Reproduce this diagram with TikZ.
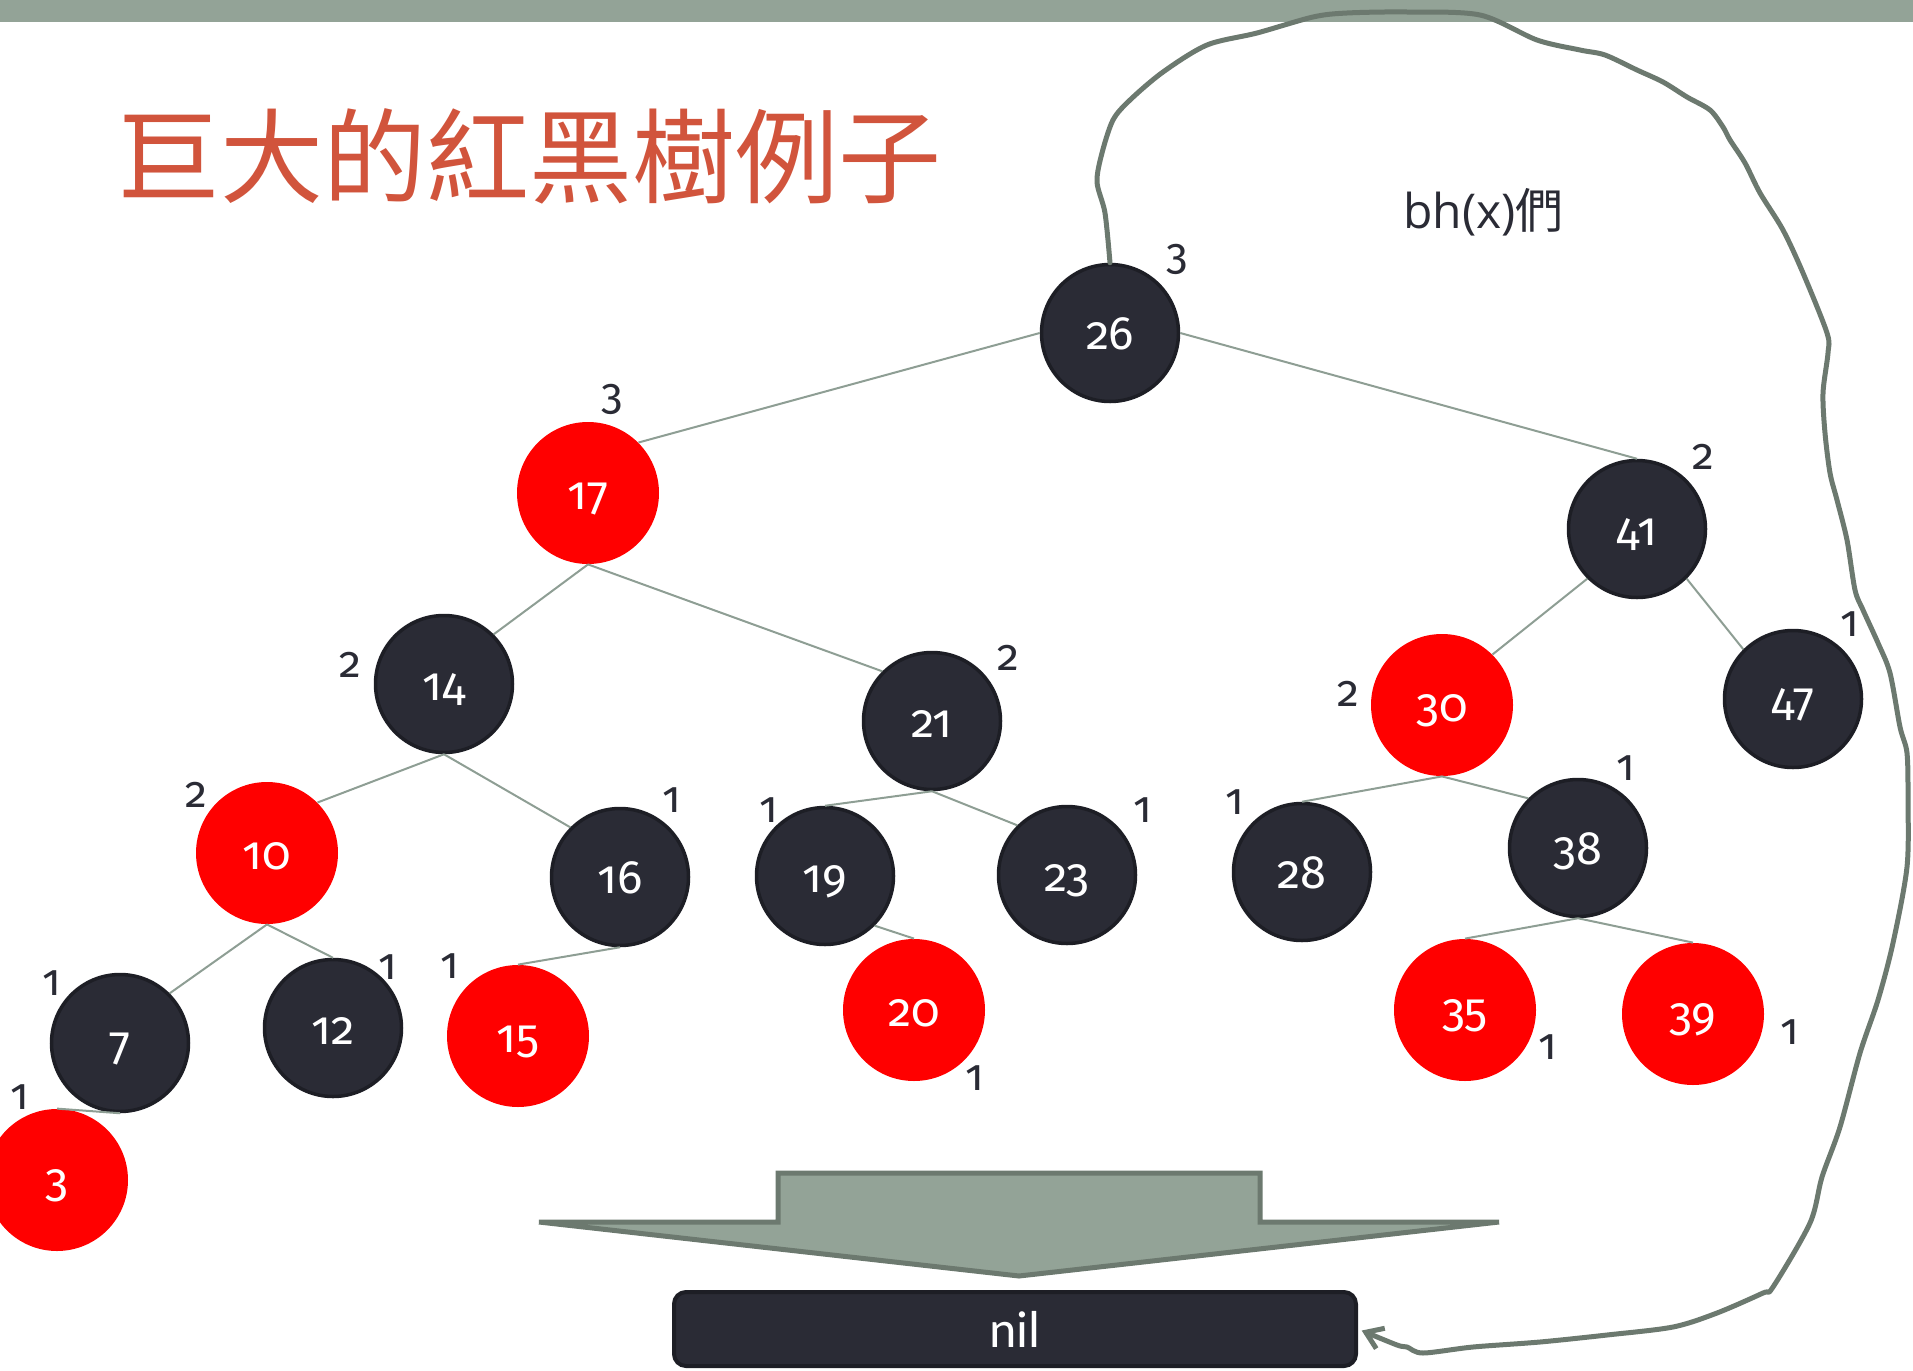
\documentclass[tikz,border=0pt]{standalone}
\usepackage{fontspec}
\setmainfont{Fira Sans}[Numbers=OldStyle]
\newfontfamily\cjkfont{Noto Sans CJK TC}
\newfontfamily\nilfont{Carlito}
\newfontfamily\bhfont{Open Sans}
\usetikzlibrary{arrows.meta}
\definecolor{barcol}{RGB}{147,163,151}
\definecolor{barline}{RGB}{108,121,111}
\definecolor{nodefill}{RGB}{42,43,53}
\definecolor{nodeline}{RGB}{29,30,37}
\definecolor{edgecol}{RGB}{142,158,148}
\definecolor{titlecol}{RGB}{209,84,60}
\definecolor{txtcol}{RGB}{42,43,53}
\tikzset{
  bnode/.style={circle, fill=nodefill, draw=nodeline, line width=1.75pt, minimum size=68.5pt, inner sep=0pt, text=white, text height=18pt, text depth=2pt, font=\fontsize{23.5}{28}\selectfont},
  rnode/.style={circle, fill=red, minimum size=71pt, inner sep=0pt, text=white, text height=18pt, text depth=2pt, font=\fontsize{23.5}{28}\selectfont},
  bhlabel/.style={text=txtcol, font=\fontsize{22}{26}\selectfont, inner sep=0pt},
  treeline/.style={draw=edgecol, line width=1pt},
  nilbox/.style={rectangle, rounded corners=6pt, fill=nodefill, draw=nodeline, line width=2pt, minimum width=341pt, minimum height=37pt, text=white, font=\nilfont\fontsize{26}{30}\selectfont},
  curveline/.style={draw=barline, line width=2.5pt, line cap=round, line join=round},
  blockarrow/.style={fill=barcol, draw=barline, line width=2.5pt}
}
\begin{document}
\begin{tikzpicture}[x=0.5pt,y=-0.5pt]
\useasboundingbox (0,0) rectangle (1913,1371);
\fill[barcol] (0,0) rectangle (1913,22);

% title
\node[anchor=base west, inner sep=0pt, text=titlecol, font=\cjkfont\fontsize{51.5}{60}\selectfont] (title) at (117,195) {巨大的紅黑樹例子};
\node[anchor=base west, inner sep=0pt, text=txtcol] (bhx) at (1403,228) {{\bhfont\fontsize{24}{28}\selectfont bh(x)}{\cjkfont\fontsize{24}{28}\selectfont 們}};

% block arrow
\draw[blockarrow] (778,1173) -- (1260,1173) -- (1260,1222) -- (1499,1222) -- (1019,1276) -- (539,1222) -- (778,1222) -- cycle;

% nil box
\node[nilbox] (nil) at (1015,1329) {nil};

% nodes
\node[bnode] (n26) at (1110,333) {26};
\node[rnode] (n17) at (588,493) {17};
\node[bnode] (n41) at (1637,529) {41};
\node[bnode] (n14) at (444,684) {14};
\node[bnode] (n21) at (932,721) {21};
\node[rnode] (n30) at (1442,705) {30};
\node[bnode] (n47) at (1793,699) {47};
\node[rnode] (n10) at (267,853) {10};
\node[bnode] (n16) at (620,877) {16};
\node[bnode] (n19) at (825,876) {19};
\node[bnode] (n23) at (1067,875) {23};
\node[bnode] (n28) at (1302,872) {28};
\node[bnode] (n38) at (1578,848) {38};
\node[bnode] (n7) at (120,1043) {7};
\node[bnode] (n12) at (333,1028) {12};
\node[rnode] (n15) at (518,1036) {15};
\node[rnode] (n20) at (914,1010) {20};
\node[rnode] (n35) at (1465,1010) {35};
\node[rnode] (n39) at (1693,1014) {39};
\node[rnode] (n3) at (57,1180) {3};

% edges
\draw[treeline] (n26.west) -- (n17.45);
\draw[treeline] (n26.east) -- (n41.north);
\draw[treeline] (n17.south) -- (n14.45);
\draw[treeline] (n17.south) -- (n21.135);
\draw[treeline] (n14.south) -- (n10.45);
\draw[treeline] (n14.south) -- (n16.135);
\draw[treeline] (n10.south) -- (n7.45);
\draw[treeline] (n10.south) -- (n12.north);
\draw[treeline] (n7.south) -- (n3.north);
\draw[treeline] (n16.south) -- (n15.north);
\draw[treeline] (n21.south) -- (n19.north);
\draw[treeline] (n21.south) -- (n23.135);
\draw[treeline] (n19.-45) -- (n20.north);
\draw[treeline] (n41.-135) -- (n30.45);
\draw[treeline] (n41.-45) -- (n47.135);
\draw[treeline] (n30.south) -- (n28.north);
\draw[treeline] (n30.south) -- (n38.135);
\draw[treeline] (n38.south) -- (n35.north);
\draw[treeline] (n38.south) -- (n39.north);

% black heights
\node[bhlabel] (b26) at (1177,259) {3};
\node[bhlabel] (b17) at (612,399) {3};
\node[bhlabel] (b41) at (1703,457) {2};
\node[bhlabel] (b14) at (350,665) {2};
\node[bhlabel] (b21) at (1008,658) {2};
\node[bhlabel] (b30) at (1348,694) {2};
\node[bhlabel] (b47) at (1850,624) {1};
\node[bhlabel] (b10) at (196,795) {2};
\node[bhlabel] (b16) at (672,800) {1};
\node[bhlabel] (b19) at (769,810) {1};
\node[bhlabel] (b23) at (1143,810) {1};
\node[bhlabel] (b28) at (1235,802) {1};
\node[bhlabel] (b38) at (1626,768) {1};
\node[bhlabel] (b7) at (52,983) {1};
\node[bhlabel] (b12) at (388,967) {1};
\node[bhlabel] (b15) at (450,966) {1};
\node[bhlabel] (b3) at (20,1097) {1};
\node[bhlabel] (b20) at (975,1078) {1};
\node[bhlabel] (b35) at (1548,1047) {1};
\node[bhlabel] (b39) at (1790,1032) {1};

% hand-drawn curve from root to nil
\draw[curveline, -{Straight Barb[length=8pt,width=11pt]}, shorten >=2pt] plot[smooth, tension=0.5] coordinates {
(n26.north) (1105,213) (1097,182) (1102,153) (1113,120) (1130,100) (1163,72) (1207,45) (1257,33) (1313,17) (1347,13) (1407,12) (1480,15) (1537,40) (1580,50) (1605,55) (1637,70) (1663,82) (1687,97) (1710,110) (1723,127) (1730,140) (1745,163) (1760,193) (1783,230) (1803,273) (1827,333) (1828,353) (1823,393) (1825,433) (1830,473) (1837,500) (1847,540) (1855,590) (1863,610) (1878,643) (1890,673) (1900,727) (1907,753) (1908,800) (1907,867) (1893,943) (1878,1000) (1860,1053) (1840,1127) (1822,1177) (1810,1223) (1773,1287) (1763,1293) (1717,1313) (1673,1327) (1607,1335) (1540,1342) (1473,1347) (1423,1353) (1407,1347) (1397,1345) (nil.east)};
\end{tikzpicture}
\end{document}
